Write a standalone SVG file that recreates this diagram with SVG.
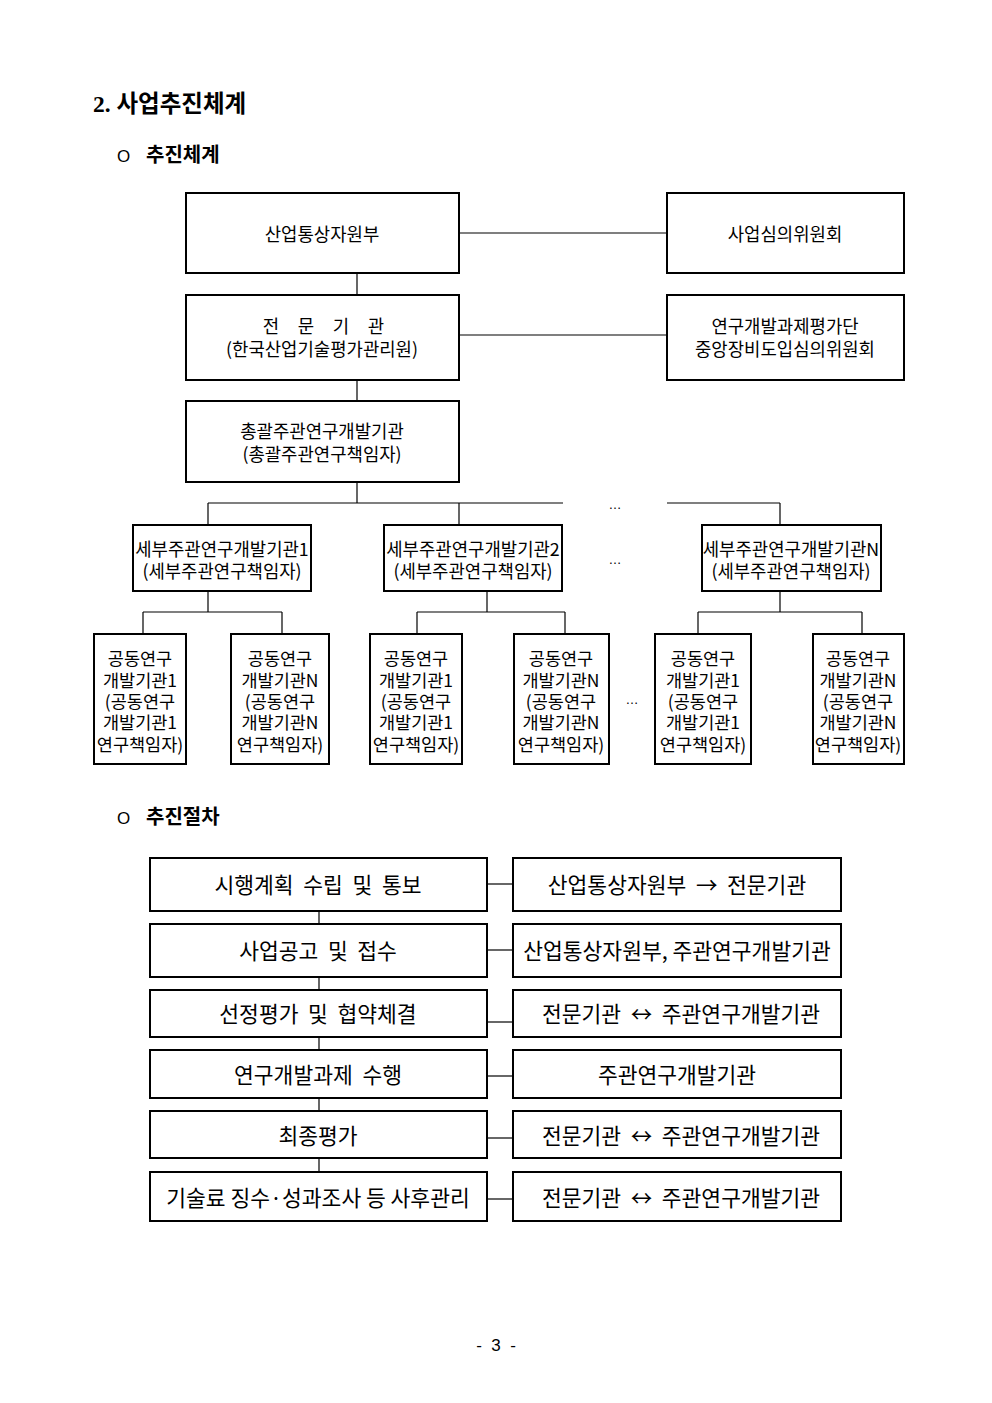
<svg xmlns="http://www.w3.org/2000/svg" width="992" height="1403" viewBox="0 0 992 1403">
<style>
.bx{fill:#fff;stroke:#000;stroke-width:2}
.cn{stroke:#000;stroke-width:1.2;fill:none}
.t{font-family:"Noto Sans CJK KR","Liberation Sans",sans-serif;font-size:17.8px;fill:#000;text-anchor:middle;dominant-baseline:central}
.s{font-family:"Noto Sans CJK KR","Liberation Sans",sans-serif;font-size:17.5px;fill:#000;text-anchor:middle;dominant-baseline:central}
.t2{font-family:"Noto Sans CJK KR","Liberation Sans",sans-serif;font-size:21.5px;fill:#000;text-anchor:middle;dominant-baseline:central}
.h{font-family:"Liberation Serif","Noto Sans CJK KR",serif;font-weight:bold;fill:#000;dominant-baseline:central}
.o{font-family:"Liberation Sans",sans-serif;font-size:17px;fill:#000;dominant-baseline:central}
.d{font-family:"Liberation Sans",sans-serif;font-size:13px;fill:#000;text-anchor:middle}
</style>
<rect width="992" height="1403" fill="#fff"/>
<text class="h" x="93" y="104" font-size="23.5">2. 사업추진체계</text>
<text class="o" x="117" y="156">O</text>
<text class="h" x="146" y="155" font-size="20">추진체계</text>
<text class="o" x="117" y="818">O</text>
<text class="h" x="146" y="817" font-size="20">추진절차</text>

<g id="connectors">
<line class="cn" x1="459" y1="233" x2="667" y2="233"/>
<line class="cn" x1="459" y1="335" x2="667" y2="335"/>
<line class="cn" x1="357" y1="273" x2="357" y2="295"/>
<line class="cn" x1="357" y1="380" x2="357" y2="401"/>
<line class="cn" x1="357" y1="482" x2="357" y2="503"/>
<line class="cn" x1="208" y1="503" x2="563" y2="503"/>
<line class="cn" x1="667" y1="503" x2="780" y2="503"/>
<line class="cn" x1="208" y1="503" x2="208" y2="525"/>
<line class="cn" x1="459" y1="503" x2="459" y2="525"/>
<line class="cn" x1="780" y1="503" x2="780" y2="525"/>
<line class="cn" x1="208" y1="591" x2="208" y2="612"/>
<line class="cn" x1="143" y1="612" x2="282" y2="612"/>
<line class="cn" x1="143" y1="612" x2="143" y2="634"/>
<line class="cn" x1="282" y1="612" x2="282" y2="634"/>
<line class="cn" x1="487" y1="591" x2="487" y2="612"/>
<line class="cn" x1="417" y1="612" x2="565" y2="612"/>
<line class="cn" x1="417" y1="612" x2="417" y2="634"/>
<line class="cn" x1="565" y1="612" x2="565" y2="634"/>
<line class="cn" x1="780" y1="591" x2="780" y2="612"/>
<line class="cn" x1="698" y1="612" x2="862" y2="612"/>
<line class="cn" x1="698" y1="612" x2="698" y2="634"/>
<line class="cn" x1="862" y1="612" x2="862" y2="634"/>
<line class="cn" x1="319" y1="911" x2="319" y2="924"/>
<line class="cn" x1="319" y1="977" x2="319" y2="990"/>
<line class="cn" x1="319" y1="1037" x2="319" y2="1050"/>
<line class="cn" x1="319" y1="1098" x2="319" y2="1111"/>
<line class="cn" x1="319" y1="1158" x2="319" y2="1172"/>
<line class="cn" x1="487" y1="884" x2="513" y2="884"/>
<line class="cn" x1="487" y1="950" x2="513" y2="950"/>
<line class="cn" x1="487" y1="1022" x2="513" y2="1022"/>
<line class="cn" x1="487" y1="1076" x2="513" y2="1076"/>
<line class="cn" x1="487" y1="1138" x2="513" y2="1138"/>
<line class="cn" x1="487" y1="1199" x2="513" y2="1199"/>
<text class="d" x="615" y="509">…</text>
<text class="d" x="615" y="564">…</text>
<text class="d" x="632" y="704">…</text>
</g>

<g id="n-motie"><rect class="bx" x="186" y="193" width="273" height="80"/><text class="t" x="322" y="233">산업통상자원부</text></g>
<g id="n-council"><rect class="bx" x="667" y="193" width="237" height="80"/><text class="t" x="785" y="233">사업심의위원회</text></g>
<g id="n-agency"><rect class="bx" x="186" y="295" width="273" height="85"/><text class="t" x="271" y="325">전</text><text class="t" x="306" y="325">문</text><text class="t" x="341" y="325">기</text><text class="t" x="376" y="325">관</text><text class="t" x="322" y="348">(한국산업기술평가관리원)</text></g>
<g id="n-eval"><rect class="bx" x="667" y="295" width="237" height="85"/><text class="t" x="785" y="325">연구개발과제평가단</text><text class="t" x="785" y="348">중앙장비도입심의위원회</text></g>
<g id="n-lead"><rect class="bx" x="186" y="401" width="273" height="81"/><text class="t" x="322" y="430">총괄주관연구개발기관</text><text class="t" x="322" y="453">(총괄주관연구책임자)</text></g>

<g id="n-sub1"><rect class="bx" x="133" y="525" width="178" height="66"/><text class="t" x="222" y="548">세부주관연구개발기관1</text><text class="t" x="222" y="570">(세부주관연구책임자)</text></g>
<g id="n-sub2"><rect class="bx" x="384" y="525" width="178" height="66"/><text class="t" x="473" y="548">세부주관연구개발기관2</text><text class="t" x="473" y="570">(세부주관연구책임자)</text></g>
<g id="n-subN"><rect class="bx" x="702" y="525" width="179" height="66"/><text class="t" x="791" y="548">세부주관연구개발기관N</text><text class="t" x="791" y="570">(세부주관연구책임자)</text></g>

<g id="n-j1-1"><rect class="bx" x="94" y="634" width="92" height="130"/><text class="s" x="140" y="657">공동연구</text><text class="s" x="140" y="679">개발기관1</text><text class="s" x="140" y="700">(공동연구</text><text class="s" x="140" y="721">개발기관1</text><text class="s" x="140" y="743">연구책임자)</text></g>
<g id="n-j1-N"><rect class="bx" x="231" y="634" width="98" height="130"/><text class="s" x="280" y="657">공동연구</text><text class="s" x="280" y="679">개발기관N</text><text class="s" x="280" y="700">(공동연구</text><text class="s" x="280" y="721">개발기관N</text><text class="s" x="280" y="743">연구책임자)</text></g>
<g id="n-j2-1"><rect class="bx" x="370" y="634" width="92" height="130"/><text class="s" x="416" y="657">공동연구</text><text class="s" x="416" y="679">개발기관1</text><text class="s" x="416" y="700">(공동연구</text><text class="s" x="416" y="721">개발기관1</text><text class="s" x="416" y="743">연구책임자)</text></g>
<g id="n-j2-N"><rect class="bx" x="514" y="634" width="95" height="130"/><text class="s" x="561" y="657">공동연구</text><text class="s" x="561" y="679">개발기관N</text><text class="s" x="561" y="700">(공동연구</text><text class="s" x="561" y="721">개발기관N</text><text class="s" x="561" y="743">연구책임자)</text></g>
<g id="n-jN-1"><rect class="bx" x="655" y="634" width="96" height="130"/><text class="s" x="703" y="657">공동연구</text><text class="s" x="703" y="679">개발기관1</text><text class="s" x="703" y="700">(공동연구</text><text class="s" x="703" y="721">개발기관1</text><text class="s" x="703" y="743">연구책임자)</text></g>
<g id="n-jN-N"><rect class="bx" x="813" y="634" width="91" height="130"/><text class="s" x="858" y="657">공동연구</text><text class="s" x="858" y="679">개발기관N</text><text class="s" x="858" y="700">(공동연구</text><text class="s" x="858" y="721">개발기관N</text><text class="s" x="858" y="743">연구책임자)</text></g>

<g id="s1"><rect class="bx" x="150" y="858" width="337" height="53"/><text class="t2" x="318" y="883" xml:space="preserve">시행계획  수립  및  통보</text></g>
<g id="r1"><rect class="bx" x="513" y="858" width="328" height="53"/><text class="t2" x="677" y="883" xml:space="preserve">산업통상자원부  →  전문기관</text></g>
<g id="s2"><rect class="bx" x="150" y="924" width="337" height="53"/><text class="t2" x="318" y="949" xml:space="preserve">사업공고  및  접수</text></g>
<g id="r2"><rect class="bx" x="513" y="924" width="328" height="53"/><text class="t2" x="677" y="949">산업통상자원부, 주관연구개발기관</text></g>
<g id="s3"><rect class="bx" x="150" y="990" width="337" height="47"/><text class="t2" x="318" y="1012" xml:space="preserve">선정평가  및  협약체결</text></g>
<g id="r3"><rect class="bx" x="513" y="990" width="328" height="47"/><text class="t2" x="681" y="1012" xml:space="preserve">전문기관  ↔  주관연구개발기관</text></g>
<g id="s4"><rect class="bx" x="150" y="1050" width="337" height="48"/><text class="t2" x="318" y="1073" xml:space="preserve">연구개발과제  수행</text></g>
<g id="r4"><rect class="bx" x="513" y="1050" width="328" height="48"/><text class="t2" x="677" y="1073">주관연구개발기관</text></g>
<g id="s5"><rect class="bx" x="150" y="1111" width="337" height="47"/><text class="t2" x="318" y="1134">최종평가</text></g>
<g id="r5"><rect class="bx" x="513" y="1111" width="328" height="47"/><text class="t2" x="681" y="1134" xml:space="preserve">전문기관  ↔  주관연구개발기관</text></g>
<g id="s6"><rect class="bx" x="150" y="1172" width="337" height="49"/><text class="t2" x="318" y="1196" xml:space="preserve">기술료 징수·성과조사 등 사후관리</text></g>
<g id="r6"><rect class="bx" x="513" y="1172" width="328" height="49"/><text class="t2" x="681" y="1196" xml:space="preserve">전문기관  ↔  주관연구개발기관</text></g>

<text x="496" y="1345" font-family="Liberation Sans, sans-serif" font-size="17" text-anchor="middle" dominant-baseline="central" xml:space="preserve">-  3  -</text>
</svg>
